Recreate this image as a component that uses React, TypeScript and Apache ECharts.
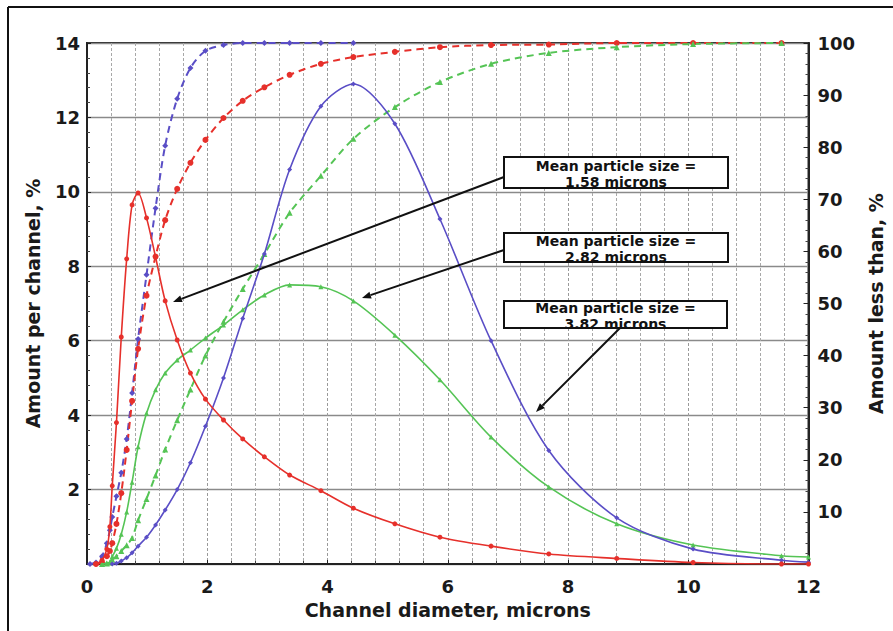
import React, { useEffect, useRef } from 'react';
import * as echarts from 'echarts';

// Channel diameters (microns) where markers sit
const diameters = [0.05, 0.15, 0.25, 0.33, 0.38, 0.42, 0.49, 0.57, 0.66, 0.75, 0.85, 0.99, 1.14, 1.3, 1.5, 1.72, 1.97, 2.27, 2.59, 2.95, 3.37, 3.89, 4.43, 5.12, 5.87, 6.72, 7.68, 8.81, 10.08, 11.55, 12];

// Amount per channel, % (left axis)
const redPerChannel = [null, 0, 0.1, 0.4, 1.0, 2.1, 3.8, 6.1, 8.2, 9.65, 9.97, 9.3, 8.25, 7.07, 6.02, 5.13, 4.43, 3.87, 3.36, 2.88, 2.39, 1.97, 1.5, 1.08, 0.72, 0.48, 0.27, 0.15, 0.04, 0.0, 0.0];
const greenPerChannel = [null, null, 0, 0.02, 0.05, 0.2, 0.42, 0.8, 1.4, 2.2, 3.15, 4.05, 4.68, 5.13, 5.48, 5.75, 6.07, 6.42, 6.83, 7.23, 7.5, 7.45, 7.07, 6.15, 4.95, 3.41, 2.07, 1.08, 0.51, 0.22, 0.19];
const bluePerChannel = [null, null, null, null, null, 0, 0.02, 0.08, 0.17, 0.3, 0.48, 0.72, 1.05, 1.45, 2.0, 2.72, 3.7, 5.0, 6.6, 8.33, 10.6, 12.3, 12.9, 11.83, 9.27, 6.0, 3.05, 1.24, 0.4, 0.1, 0.05];

// Amount less than, % (right axis)
const redCumulative = [null, 0, 0.3, 1.5, 2.5, 4, 7.7, 13.6, 21.9, 31.3, 41.3, 51.5, 59, 66, 72, 77, 81.4, 85.6, 88.9, 91.5, 93.9, 96, 97.3, 98.3, 99.2, 99.6, 99.7, 100, 100, 100, null];
const greenCumulative = [null, null, 0, 0.1, 0.3, 0.8, 1.5, 2.5, 3.6, 5, 8.4, 12.5, 17, 22, 27.6, 33.5, 40, 46.5, 52.8, 59.5, 67.4, 74.5, 81.6, 87.7, 92.5, 96, 98.1, 99.2, 99.8, 100, null];
const blueCumulative = [0, 0.3, 1.5, 4, 6.5, 9, 13, 17.5, 24, 32.8, 43.2, 55.5, 68.3, 80.3, 89.3, 95.2, 98.5, 99.6, 100, 100, 100, 100, 100, null, null, null, null, null, null, null, null];

const xTicks = [0, 2, 4, 6, 8, 10, 12];
const annotations = [
  { line1: 'Mean particle size =', line2: '1.58 microns' },
  { line1: 'Mean particle size =', line2: '2.82 microns' },
  { line1: 'Mean particle size =', line2: '3.82 microns' },
];

const RED = '#e6302b';
const GREEN = '#55c455';
const BLUE = '#5a4ec6';
const FONT = 'DejaVu Sans';

function pairs(ys: (number | null)[]) {
  const out: number[][] = [];
  diameters.forEach((x, i) => {
    const y = ys[i];
    if (y !== null && y !== undefined) out.push([x, y]);
  });
  return out;
}

function arrow(x1: number, y1: number, x2: number, y2: number) {
  const a = Math.atan2(y2 - y1, x2 - x1);
  const L = 9;
  const W = 3.5;
  const bx = x2 - L * Math.cos(a);
  const by = y2 - L * Math.sin(a);
  return [
    { type: 'line', z: 50, shape: { x1, y1, x2: bx, y2: by }, style: { stroke: '#111', lineWidth: 2 } },
    {
      type: 'polygon', z: 50,
      shape: { points: [[x2, y2], [bx + W * Math.sin(a), by - W * Math.cos(a)], [bx - W * Math.sin(a), by + W * Math.cos(a)]] },
      style: { fill: '#111' },
    },
  ];
}

function box(x: number, y: number, w: number, h: number, ann: { line1: string; line2: string }, textDy: number) {
  return [
    { type: 'rect', z: 51, shape: { x, y, width: w, height: h }, style: { fill: '#fff' } },
    {
      type: 'text', z: 52, x: x + w / 2, y: y + h / 2 + textDy,
      style: {
        text: ann.line1 + '\n' + ann.line2, fill: '#111', font: `bold 14px ${FONT}`,
        align: 'center', verticalAlign: 'middle', lineHeight: 16,
      },
    },
    { type: 'rect', z: 53, shape: { x, y, width: w, height: h }, style: { fill: 'none', stroke: '#111', lineWidth: 2 } },
  ];
}

export default function App() {
  const ref = useRef<HTMLDivElement>(null);
  useEffect(() => {
    if (!ref.current) return;
    const chart = echarts.init(ref.current, null, { renderer: 'svg' });
    const axisText = { fontFamily: FONT, fontWeight: 'bold' as const, fontSize: 18, color: '#1a1a1a' };
    const solid = (name: string, data: (number | null)[], color: string, symbol: string) => ({
      name, type: 'line', yAxisIndex: 0, data: pairs(data), smooth: 0.3,
      symbol, symbolSize: 5, showSymbol: true,
      lineStyle: { color, width: 1.6 }, itemStyle: { color }, z: 5,
    });
    const dashed = (name: string, data: (number | null)[], color: string, symbol: string) => ({
      name, type: 'line', yAxisIndex: 1, data: pairs(data), smooth: 0.3,
      symbol, symbolSize: 6, showSymbol: true,
      lineStyle: { color, width: 2, type: [7, 5] }, itemStyle: { color }, z: 4,
    });
    chart.setOption({
      animation: false,
      backgroundColor: '#fff',
      grid: { left: 87, right: 70, top: 43, bottom: 67, containLabel: false, show: true, borderColor: '#222', borderWidth: 2 },
      xAxis: {
        type: 'value', min: xTicks[0], max: xTicks[xTicks.length - 1], interval: 2,
        axisLine: { show: true, onZero: false, lineStyle: { color: '#222', width: 2 } },
        axisTick: { show: true, inside: true, length: 4, lineStyle: { color: '#222' } },
        minorTick: { show: true, splitNumber: 5, length: 3, lineStyle: { color: '#444' } },
        axisLabel: { ...axisText, margin: 13 },
        splitLine: { show: true, lineStyle: { color: '#9a9a9a', width: 1, type: [3, 2] } },
        minorSplitLine: { show: true, lineStyle: { color: '#a8a8a8', width: 1, type: [3, 2] } },
        name: 'Channel diameter, microns', nameLocation: 'middle', nameGap: 36,
        nameTextStyle: { ...axisText, fontSize: 19 },
      },
      yAxis: [
        {
          type: 'value', min: 0, max: 14, interval: 2, position: 'left',
          axisLine: { show: true, lineStyle: { color: '#222', width: 2 } },
          axisTick: { show: true, inside: true, length: 4, lineStyle: { color: '#222' } },
          minorTick: { show: true, splitNumber: 5, length: 3, lineStyle: { color: '#444' } },
          axisLabel: { ...axisText, margin: 7, formatter: (v: number) => (v === 0 ? '' : String(v)) },
          splitLine: { show: true, lineStyle: { color: '#8a8a8a', width: 1.3 } },
          name: 'Amount per channel, %', nameLocation: 'middle', nameGap: 45, nameRotate: 90,
          nameTextStyle: { ...axisText, fontSize: 19 },
        },
        {
          type: 'value', min: 0, max: 100, interval: 10, position: 'right',
          axisLine: { show: true, lineStyle: { color: '#222', width: 2 } },
          axisTick: { show: true, inside: true, length: 5, lineStyle: { color: '#222' } },
          minorTick: { show: true, splitNumber: 5, length: 3, lineStyle: { color: '#444' } },
          axisLabel: { ...axisText, margin: 9, formatter: (v: number) => (v === 0 ? '' : String(v)) },
          splitLine: { show: false },
          name: 'Amount less than, %', nameLocation: 'middle', nameGap: 47, nameRotate: 90,
          nameTextStyle: { ...axisText, fontSize: 19 },
        },
      ],
      series: [
        dashed('Blue cumulative', blueCumulative, BLUE, 'diamond'),
        dashed('Red cumulative', redCumulative, RED, 'circle'),
        dashed('Green cumulative', greenCumulative, GREEN, 'triangle'),
        solid('Green per channel', greenPerChannel, GREEN, 'triangle'),
        solid('Blue per channel', bluePerChannel, BLUE, 'diamond'),
        solid('Red per channel', redPerChannel, RED, 'circle'),
      ],
      graphic: [
        { type: 'line', shape: { x1: 8, y1: 7, x2: 893, y2: 7 }, style: { stroke: '#111', lineWidth: 2 } },
        { type: 'line', shape: { x1: 8, y1: 7, x2: 8, y2: 631 }, style: { stroke: '#111', lineWidth: 2 } },
        ...arrow(504, 177, 173, 302),
        ...arrow(504, 250, 362, 298),
        ...arrow(620, 328, 536, 412),
        ...box(504, 157, 224, 31, annotations[0], 1.5),
        ...box(504, 233, 224, 29, annotations[1], 1),
        ...box(504, 301, 223, 27, annotations[2], 1),
      ],
    });
    return () => chart.dispose();
  }, []);
  return <div ref={ref} style={{ position: 'fixed', left: 0, top: 0, width: 893, height: 631 }} />;
}
